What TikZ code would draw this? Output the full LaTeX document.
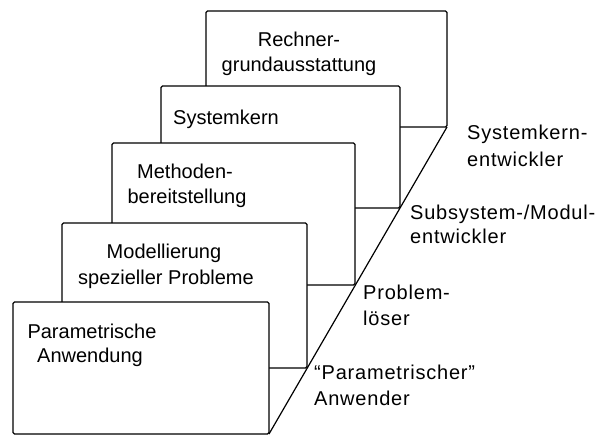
\documentclass[tikz,border=0pt]{standalone}
\usepackage{fontspec}
\setmainfont{Liberation Sans}
\newfontfamily\rolefont[LetterSpace=4]{Liberation Sans}
\begin{document}
\begin{tikzpicture}[x=1pt,y=-1pt,
  panel/.style={draw, fill=white, line width=1.2pt, inner sep=0pt, outer sep=0pt,
                anchor=north west, rounded corners=1.5pt},
  edge/.style={line width=1.2pt},
  ctext/.style={anchor=base, inner sep=0pt, font=\fontsize{20}{25}\selectfont},
  ltext/.style={anchor=base west, inner sep=0pt, font=\rolefont\fontsize{20}{25}\selectfont}]
\useasboundingbox (0,0) rectangle (595,439);

% layers, drawn from the back to the front
\node[panel, minimum width=241pt, minimum height=116pt] (rechner) at (206,11) {};
\node[panel, minimum width=239pt, minimum height=122pt] (kern)    at (161,86) {};
\node[panel, minimum width=243pt, minimum height=142pt] (methode) at (112,143) {};
\node[panel, minimum width=245pt, minimum height=145pt] (modell)  at (62,223) {};
\node[panel, minimum width=256pt, minimum height=132pt] (param)   at (13,302) {};

% slanted edge joining the lower right corners
\draw[edge] (rechner.south east) -- (param.south east);

% layer titles
\node[ctext] (t1a) at (299,46)  {Rechner-};
\node[ctext] (t1b) at (299,71)  {grundausstattung};
\node[ctext] (t2)  at (226,124.5) {Systemkern};
\node[ctext] (t3a) at (185,178) {Methoden-};
\node[ctext] (t3b) at (187,203) {bereitstellung};
\node[ctext] (t4a) at (164,258) {Modellierung};
\node[ctext] (t4b) at (166,284) {spezieller Probleme};
\node[ctext] (t5a) at (92,338)  {Parametrische};
\node[ctext] (t5b) at (90,362)  {Anwendung};

% user roles along the slanted edge
\node[ltext] (r1a) at (467,139) {Systemkern-};
\node[ltext] (r1b) at (467,166) {entwickler};
\node[ltext] (r2a) at (410,219) {Subsystem-/Modul-};
\node[ltext] (r2b) at (410,243) {entwickler};
\node[ltext] (r3a) at (363,299) {Problem-};
\node[ltext] (r3b) at (363,325) {löser};
\node[ltext] (r4a) at (314,379) {“Parametrischer”};
\node[ltext] (r4b) at (314,405) {Anwender};
\end{tikzpicture}
\end{document}
